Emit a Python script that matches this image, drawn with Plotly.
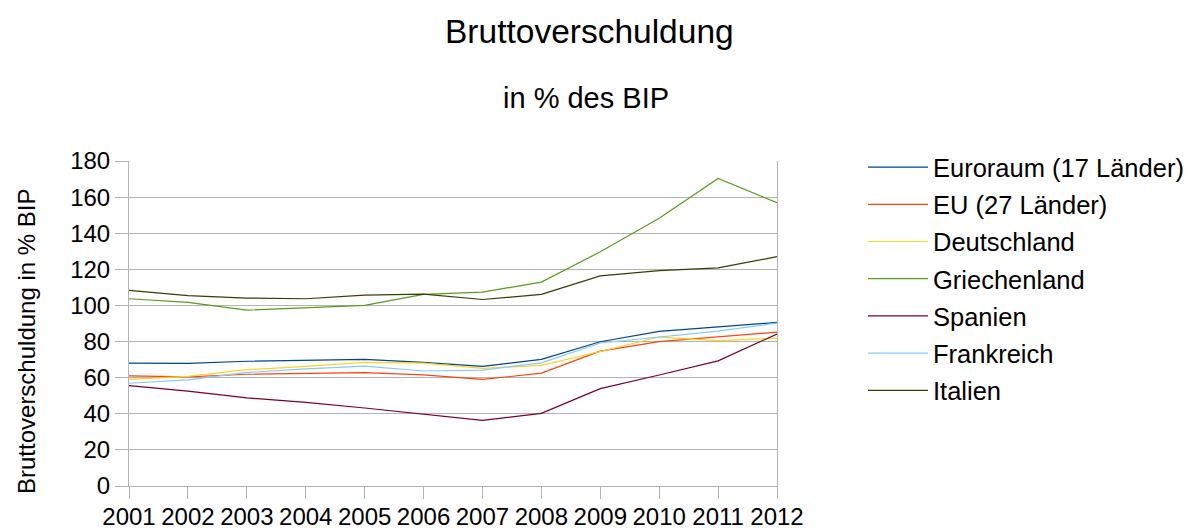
import plotly.graph_objects as go

years = [2001, 2002, 2003, 2004, 2005, 2006, 2007, 2008, 2009, 2010, 2011, 2012]
year_labels = [str(y) for y in years]

euroraum = [68.1, 67.9, 69.1, 69.5, 70.1, 68.5, 66.3, 70.1, 79.9, 85.6, 88.0, 90.6]
eu27 = [61.0, 60.4, 61.9, 62.3, 62.8, 61.6, 59.0, 62.5, 74.7, 80.0, 82.5, 85.2]
deutschland = [59.1, 60.7, 64.4, 66.2, 68.5, 68.0, 65.2, 66.8, 74.5, 82.5, 80.5, 81.9]
griechenland = [103.7, 101.7, 97.4, 98.6, 100.0, 106.1, 107.4, 112.9, 129.7, 148.3, 170.3, 156.9]
spanien = [55.6, 52.6, 48.8, 46.3, 43.2, 39.7, 36.3, 40.2, 53.9, 61.5, 69.3, 84.2]
frankreich = [56.9, 58.8, 62.9, 64.9, 66.4, 63.7, 64.2, 68.2, 79.2, 82.4, 85.8, 90.2]
italien = [108.3, 105.4, 104.1, 103.7, 105.7, 106.3, 103.3, 106.1, 116.4, 119.3, 120.8, 127.0]

series = [
    ("Euroraum (17 Länder)", euroraum, "#004586"),
    ("EU (27 Länder)", eu27, "#ff420e"),
    ("Deutschland", deutschland, "#ffd320"),
    ("Griechenland", griechenland, "#579d1c"),
    ("Spanien", spanien, "#7e0021"),
    ("Frankreich", frankreich, "#83caff"),
    ("Italien", italien, "#314004"),
]

FONT = "Liberation Sans, Arial, sans-serif"

fig = go.Figure()
for i, (name, vals, col) in enumerate(series):
    fig.add_trace(go.Scatter(x=years, y=vals, name=name, mode="lines", legendgroup=f"g{i}",
                             line=dict(color=col, width=1.2), hoverinfo="skip"))

W, H = 1192, 531
L, R, T, B = 129, 777, 161, 486

def px_x(sx):
    return (sx - L) / (R - L)

def px_y(sy):
    return (B - sy) / (B - T)

fig.update_layout(
    width=W, height=H,
    margin=dict(l=L, r=W - R, t=T, b=H - B, pad=0, autoexpand=False),
    paper_bgcolor="white", plot_bgcolor="white",
    font=dict(family=FONT, color="black", size=24),
    showlegend=True,
    legend=dict(x=px_x(863), y=px_y(279), xanchor="left", yanchor="middle",
                font=dict(size=25.5, family=FONT), itemwidth=60,
                traceorder="grouped", tracegroupgap=1.05,
                bgcolor="rgba(0,0,0,0)", borderwidth=0),
    xaxis=dict(range=[2001, 2012], tickmode="array", tickvals=years, ticktext=year_labels,
               showgrid=False, showline=True, linecolor="#b3b3b3", linewidth=1,
               ticks="outside", ticklen=12, tickcolor="#b3b3b3", automargin=False,
               ticklabelstandoff=-3,
               tickfont=dict(size=24, family=FONT), zeroline=False),
    yaxis=dict(range=[0, 180], tickmode="linear", tick0=0, dtick=20,
               showgrid=True, gridcolor="#b3b3b3", gridwidth=1,
               showline=True, linecolor="#b3b3b3", linewidth=1, mirror=True,
               ticks="outside", ticklen=13, tickcolor="#b3b3b3", automargin=False,
               tickfont=dict(size=24, family=FONT), zeroline=False),
    annotations=[
        dict(text="Bruttoverschuldung", x=px_x(589), y=px_y(31), xref="paper", yref="paper",
             xanchor="center", yanchor="middle", showarrow=False,
             font=dict(size=33.5, family=FONT, color="black")),
        dict(text="in % des BIP", x=px_x(586), y=px_y(98), xref="paper", yref="paper",
             xanchor="center", yanchor="middle", showarrow=False,
             font=dict(size=29, family=FONT, color="black")),
        dict(text="Bruttoverschuldung in % BIP", x=px_x(26), y=px_y(341), xref="paper", yref="paper",
             xanchor="center", yanchor="middle", showarrow=False, textangle=-90,
             font=dict(size=24, family=FONT, color="black")),
    ],
)

# remove the default 8px page margin so the figure fills the window exactly
fig.write_html("out.html", config={"displayModeBar": False},
               post_script="document.body.style.margin='0';document.body.style.overflow='hidden';")
